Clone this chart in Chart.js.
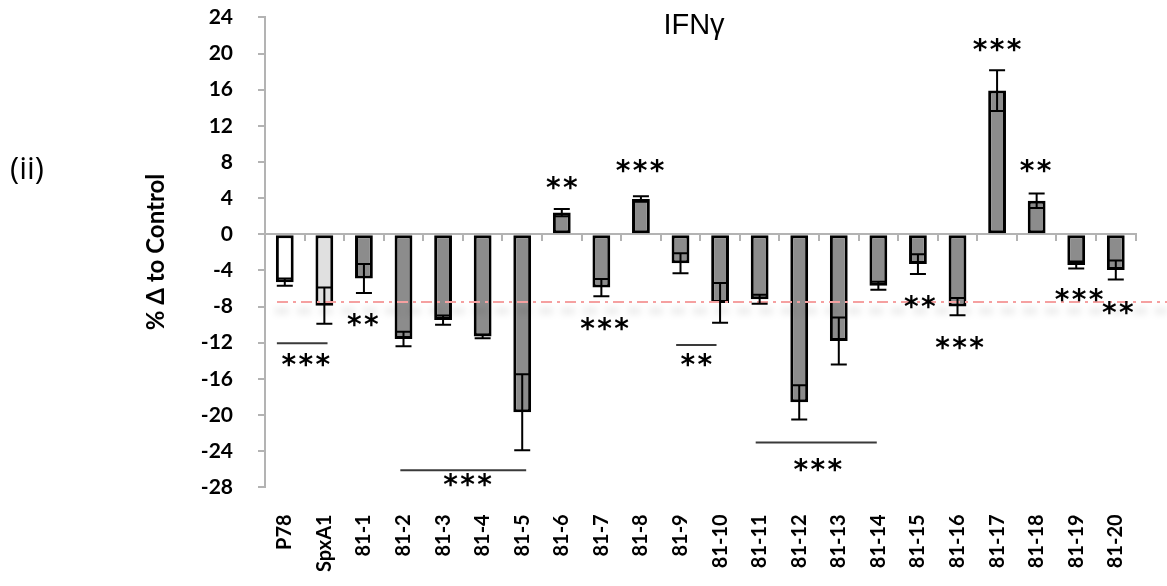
<!DOCTYPE html>
<html><head><meta charset="utf-8">
<script src="https://cdn.jsdelivr.net/npm/chart.js@4/dist/chart.umd.min.js"></script>
<style>html,body{margin:0;padding:0;background:#fff;}#wrap{width:1167px;height:586px;position:relative}</style>
</head><body><div id="wrap"><canvas id="c" width="1167" height="586"></canvas></div>
<script>
const categories = ['P78','SpxA1','81-1','81-2','81-3','81-4','81-5','81-6','81-7','81-8','81-9','81-10','81-11','81-12','81-13','81-14','81-15','81-16','81-17','81-18','81-19','81-20'];
const values = [-5.3,-7.9,-4.9,-11.6,-9.5,-11.3,-19.7,2.4,-5.9,3.9,-3.2,-7.6,-7.2,-18.6,-11.8,-5.7,-3.3,-8.0,15.9,3.7,-3.4,-3.95];
const errors = [0.4,2.0,1.6,0.8,0.5,0.2,4.2,0.4,0.95,0.3,1.1,2.2,0.5,1.9,2.6,0.45,1.1,0.95,2.25,0.8,0.4,1.05];
const barColors = ['#ffffff','#e0e0e0','#8c8c8c','#8c8c8c','#8c8c8c','#8c8c8c','#8c8c8c','#8c8c8c','#8c8c8c','#8c8c8c','#8c8c8c','#8c8c8c','#8c8c8c','#8c8c8c','#8c8c8c','#8c8c8c','#8c8c8c','#8c8c8c','#8c8c8c','#8c8c8c','#8c8c8c','#8c8c8c'];
const yMin = -28, yMax = 24, yStep = 4;
const referenceLevel = -7.5;
// significance stars: [category position, value level, text]
const sigStars = [[0.53,-13.9,'***'],[1.97,-9.5,'**'],[4.62,-27.2,'***'],[7.0,5.65,'**'],[8.08,-9.9,'***'],[8.98,7.55,'***'],[10.4,-13.9,'**'],[13.47,-25.5,'***'],[16.05,-7.45,'**'],[17.05,-12.06,'***'],[18.0,20.9,'***'],[18.97,7.55,'**'],[20.07,-6.7,'***'],[21.05,-8.2,'**']];
// significance bracket lines: [from position, to position, value level]
const sigLines = [[-0.2,1.08,-12.05],[2.92,6.1,-26.1],[9.89,10.91,-12.25],[11.9,14.96,-23.05]];
const chartTitle = 'IFNγ';
const panelLabel = '(ii)';
const yTitle = '% Δ to Control';

const overlay = {
  id:'overlay',
  afterDatasetsDraw(chart){
    const {ctx, chartArea} = chart; const x = chart.scales.x, y = chart.scales.y;
    const meta = chart.getDatasetMeta(0);
    const ry = y.getPixelForValue(referenceLevel);
    ctx.save();
    ctx.filter = 'blur(3px)';
    ctx.strokeStyle = 'rgba(0,0,0,0.07)'; ctx.lineWidth = 7;
    ctx.setLineDash([14,8]);
    ctx.beginPath(); ctx.moveTo(chartArea.left+10, ry+9); ctx.lineTo(chart.width, ry+9); ctx.stroke();
    ctx.restore();
    ctx.save();
    ctx.strokeStyle = '#f5a0a0'; ctx.lineWidth = 2;
    ctx.setLineDash([11,5,3,5]);
    ctx.beginPath(); ctx.moveTo(chartArea.left+12, ry); ctx.lineTo(chart.width, ry); ctx.stroke();
    ctx.restore();
    ctx.save(); ctx.strokeStyle = '#000'; ctx.lineWidth = 2;
    values.forEach((v,i)=>{
      const cx = meta.data[i].x;
      const hi = y.getPixelForValue(v+errors[i]), lo = y.getPixelForValue(v-errors[i]);
      ctx.beginPath();
      ctx.moveTo(cx,hi); ctx.lineTo(cx,lo);
      ctx.moveTo(cx-8,hi); ctx.lineTo(cx+8,hi);
      ctx.moveTo(cx-8,lo); ctx.lineTo(cx+8,lo);
      ctx.stroke();
    });
    ctx.restore();
  },
  afterDraw(chart){
    const {ctx} = chart; const x = chart.scales.x, y = chart.scales.y;
    ctx.save();
    ctx.strokeStyle = '#3a3a3a'; ctx.lineWidth = 2;
    sigLines.forEach(([a,b,v])=>{
      const py = y.getPixelForValue(v);
      ctx.beginPath(); ctx.moveTo(x.getPixelForValue(a), py); ctx.lineTo(x.getPixelForValue(b), py); ctx.stroke();
    });
    ctx.fillStyle = '#000';
    ctx.font = 'bold 28px "DejaVu Sans"';
    ctx.textAlign = 'center'; ctx.textBaseline = 'alphabetic';
    const m = ctx.measureText('*');
    const off = (m.actualBoundingBoxAscent - m.actualBoundingBoxDescent)/2;
    sigStars.forEach(([p,v,t])=>{
      const cx = x.getPixelForValue(p), cy = y.getPixelForValue(v);
      const n = t.length, sp = 17;
      for(let k=0;k<n;k++){
        ctx.fillText('*', cx + (k-(n-1)/2)*sp, cy + off);
      }
    });
    ctx.font = '29px "Liberation Sans"'; ctx.textAlign='center'; ctx.textBaseline='alphabetic';
    ctx.fillText(chartTitle, 694, 34);
    ctx.font = '31px "Open Sans"'; ctx.textAlign='left'; ctx.textBaseline='middle';
    ctx.fillText(panelLabel, 10, 170);
    ctx.save();
    ctx.translate(156, 252); ctx.rotate(-Math.PI/2);
    ctx.font = 'bold 24px Lato'; ctx.textAlign='center'; ctx.textBaseline='middle';
    ctx.fillText(yTitle, 0, 0);
    ctx.restore();
    ctx.restore();
  }
};

const yTickValues = [];
for (let v = yMin; v <= yMax; v += yStep) yTickValues.push(v);

new Chart(document.getElementById('c'), {
  type:'bar',
  data:{ labels: categories, datasets:[{ data: values, backgroundColor: barColors, borderColor:'#000', borderWidth:3, borderSkipped:false, categoryPercentage:1, barPercentage:0.45, xAxisID:'x', yAxisID:'y' }]},
  options:{
    responsive:false, animation:false, devicePixelRatio:1,
    layout:{ padding:{ top:17.4, right:9, bottom:0, left:0 } },
    plugins:{ legend:{display:false}, tooltip:{enabled:false} },
    scales:{
      x:{ type:'category', position:'bottom', grid:{display:false, drawTicks:false}, border:{display:false},
          ticks:{ minRotation:90, maxRotation:90, autoSkip:false, padding:27, color:'#000', font:{family:'Lato', weight:'bold', size:20} },
          afterFit(s){ s.height = 98.7; } },
      x0:{ type:'category', labels: categories, position:{y:0}, offset:true, z:1,
          grid:{ drawOnChartArea:false, drawTicks:true, tickLength:6, color:'#b3b3b3', lineWidth:2, offset:true },
          border:{ display:true, color:'#b3b3b3', width:2 }, ticks:{ display:false },
          afterFit(s){ s.height = 0; } },
      y:{ min:yMin, max:yMax, afterBuildTicks(s){ s.ticks = yTickValues.map(v=>({value:v})); },
          ticks:{ padding:25, color:'#000', font:{family:'Lato', weight:'bold', size:21} },
          grid:{ drawOnChartArea:false, tickLength:7, color:'#b3b3b3', lineWidth:2 },
          border:{ color:'#b3b3b3', width:2 },
          afterFit(s){ s.width = 265; s.paddingTop = 0; s.paddingBottom = 0; } }
    }
  },
  plugins:[overlay]
});
</script></body></html>
